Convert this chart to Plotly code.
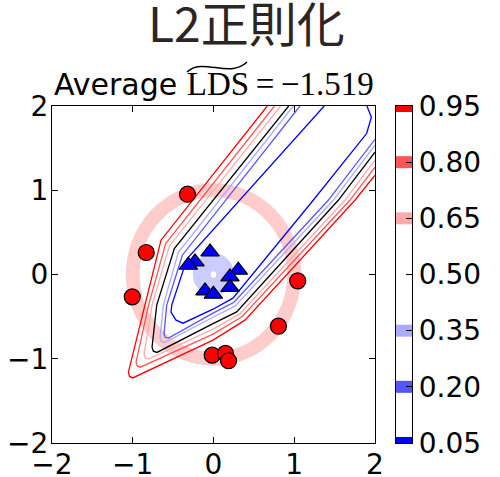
import plotly.graph_objects as go

# ---------------- data ----------------
levels = [0.05, 0.20, 0.35, 0.50, 0.65, 0.80, 0.95]
level_labels = ["0.05", "0.20", "0.35", "0.50", "0.65", "0.80", "0.95"]
level_colors = ["#0000ff", "#5555ff", "#aaaaff", "#ffffff", "#ffaaaa", "#ff5555", "#ff0000"]

# contour lines (data units)
c095_x = [0.666, -0.650, -0.849, -1.054, -1.040, -1.000, -0.006, 0.390, 1.751, 2.0]
c095_y = [2.0, 0.407, -0.364, -1.159, -1.210, -1.228, -0.779, -0.542, 0.881, 1.178]
c080_x = [0.755, -0.592, -0.804, -0.959, -0.945, -0.905, -0.006, 0.353, 1.689, 2.0]
c080_y = [2.0, 0.368, -0.364, -1.040, -1.085, -1.100, -0.708, -0.501, 0.881, 1.273]
c065_x = [0.832, -0.547, -0.761, -0.860, -0.845, -0.805, -0.006, 0.322, 1.627, 2.0]
c065_y = [2.0, 0.339, -0.364, -0.945, -0.990, -1.004, -0.649, -0.471, 0.881, 1.356]
c050_x = [0.931, -0.485, -0.703, -0.761, -0.745, -0.700, -0.006, 0.287, 1.545, 2.0]
c050_y = [2.0, 0.308, -0.364, -0.862, -0.910, -0.925, -0.584, -0.444, 0.881, 1.451]
c035_x = [0.988, -0.436, -0.621, -0.662, -0.645, -0.605, -0.006, 0.266, 1.483, 2.0]
c035_y = [2.0, 0.261, -0.364, -0.756, -0.795, -0.808, -0.507, -0.376, 0.881, 1.534]
c020_x = [1.071, -0.386, -0.579, -0.613, -0.597, -0.557, -0.006, 0.254, 1.421, 2.0]
c020_y = [2.0, 0.229, -0.364, -0.708, -0.745, -0.755, -0.459, -0.329, 0.881, 1.605]
c005_x = [1.371, -0.328, -0.517, -0.526, -0.464, -0.377, -0.006, 0.241, 1.235, 1.896, 1.955, 1.900]
c005_y = [2.0, 0.187, -0.364, -0.447, -0.542, -0.578, -0.412, -0.281, 0.881, 1.673, 1.866, 2.0]

red_x = [-0.322, -0.833, -1.006, 1.043, 0.804, -0.016, 0.148, 0.186]
red_y = [0.953, 0.261, -0.265, -0.075, -0.613, -0.957, -0.937, -1.024]
blue_x = [-0.043, -0.229, -0.312, 0.307, 0.204, 0.204, -0.105, -0.002]
blue_y = [0.268, 0.149, 0.110, 0.051, -0.028, -0.154, -0.195, -0.234]

axis_ticks = [-2, -1, 0, 1, 2]
axis_ticktext = ["\u22122", "\u22121", "0", "1", "2"]

title_text = "L2正則化"
subtitle_value = "\u22121.519"

# ---------------- figure ----------------
W, H = 500, 477
def px(v):
    return v / W
def py(v):
    return 1 - v / H

fig = go.Figure()

contours = [
    (c095_x, c095_y, "#ff0000"),
    (c080_x, c080_y, "#ff5555"),
    (c065_x, c065_y, "#ffaaaa"),
    (c050_x, c050_y, "#000000"),
    (c035_x, c035_y, "#aaaaff"),
    (c020_x, c020_y, "#5555ff"),
    (c005_x, c005_y, "#0000ff"),
]
for cx, cy, col in contours:
    fig.add_trace(go.Scatter(x=cx, y=cy, mode="lines", line=dict(color=col, width=1.3),
                             showlegend=False, hoverinfo="skip", xaxis="x", yaxis="y"))

fig.add_trace(go.Scatter(x=red_x, y=red_y, mode="markers",
                         marker=dict(symbol="circle", size=16, color="#ff0000",
                                     line=dict(color="black", width=1.2)),
                         showlegend=False, xaxis="x", yaxis="y"))
fig.add_trace(go.Scatter(x=blue_x, y=blue_y, mode="markers",
                         marker=dict(symbol="triangle-up", size=16, color="#0000ff",
                                     line=dict(color="black", width=1.2)),
                         showlegend=False, xaxis="x", yaxis="y"))

# colorbar bands
for lv, col in zip(levels, level_colors):
    fig.add_trace(go.Scatter(x=[0, 1], y=[lv, lv], mode="lines",
                             line=dict(color=col, width=12),
                             showlegend=False, hoverinfo="skip", xaxis="x2", yaxis="y2"))

shapes = [
    dict(type="circle", xref="x", yref="y", x0=-1, x1=1, y0=-1, y1=1,
         line=dict(color="rgba(255,0,0,0.2)", width=14), layer="below"),
    dict(type="circle", xref="x", yref="y", x0=-0.145, x1=0.145, y0=-0.145, y1=0.145,
         line=dict(color="rgba(0,0,255,0.2)", width=18), layer="below"),
    # wide tilde over LDS
    dict(type="path", xref="paper", yref="paper",
         path=f"M {px(187)},{py(72)} C {px(203)},{py(57)} {px(229)},{py(79)} {px(247)},{py(62)}",
         line=dict(color="black", width=1.5)),
]

tick_font = dict(family="DejaVu Sans", size=28, color="black")
ax_common = dict(range=[-2, 2], tickvals=axis_ticks, ticktext=axis_ticktext,
                 ticks="inside", ticklen=6, tickwidth=1, tickcolor="black",
                 showline=True, linecolor="black", linewidth=1.2, mirror="ticks",
                 showgrid=False, zeroline=False, tickfont=tick_font, automargin=False)

fig.update_layout(
    width=W, height=H, margin=dict(l=0, r=0, t=0, b=0, autoexpand=False),
    paper_bgcolor="white", plot_bgcolor="white",
    xaxis=dict(domain=[px(52), px(375)], anchor="y", ticklabelstandoff=-4, **ax_common),
    yaxis=dict(domain=[py(443), py(106)], anchor="x", ticklabelstandoff=-3, **ax_common),
    xaxis2=dict(domain=[px(396), px(412)], anchor="y2", range=[0, 1],
                showline=True, linecolor="black", linewidth=1.2, mirror=True,
                showticklabels=False, ticks="", showgrid=False, zeroline=False,
                automargin=False),
    yaxis2=dict(domain=[py(443), py(106)], anchor="x2", range=[0.05, 0.95], side="right",
                tickvals=levels, ticktext=level_labels, ticks="inside", ticklen=6,
                tickcolor="black", showline=True, linecolor="black", linewidth=1.2,
                mirror=True, showgrid=False, zeroline=False, tickfont=tick_font,
                automargin=False),
    shapes=shapes,
    annotations=[
        dict(text=title_text, xref="paper", yref="paper", x=px(246.5), y=py(21),
             xanchor="center", yanchor="middle", showarrow=False,
             font=dict(family="Noto Sans CJK JP", size=48, color="#2d2424")),
        dict(text="Average <span style='font-family:Liberation Serif;font-size:33px'>LDS\u2009=\u2009"
                  + subtitle_value + "</span>",
             xref="paper", yref="paper", x=px(52), y=py(84),
             xanchor="left", yanchor="middle", showarrow=False,
             font=dict(family="DejaVu Sans", size=30, color="black")),
    ],
)

fig.write_html("out.html")
